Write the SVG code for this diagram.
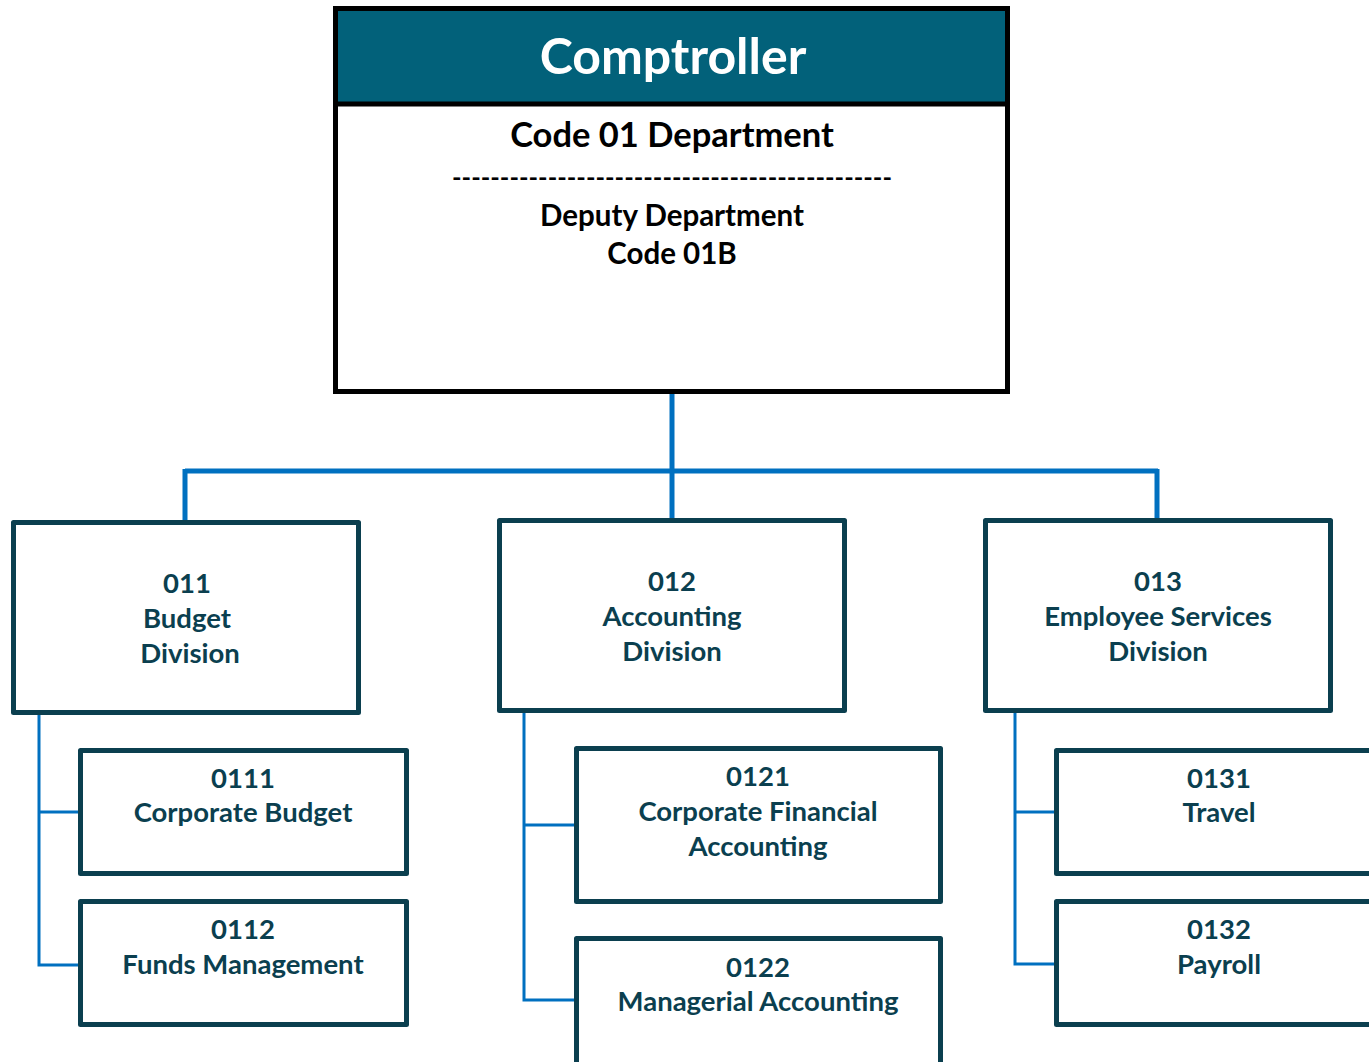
<svg xmlns="http://www.w3.org/2000/svg" width="1369" height="1062" viewBox="0 0 1369 1062">
<style>
text{font-family:Lato,"Open Sans","Liberation Sans",sans-serif;font-weight:bold;text-anchor:middle}
.box{fill:#fff;stroke:#0B3F4F;stroke-width:5;stroke-linejoin:round}
.t{fill:#0B3F4F;font-size:27.5px}
.main{stroke:#0070C0;stroke-width:5;fill:none}
.sub{stroke:#0070C0;stroke-width:3;fill:none}
</style>
<rect width="1369" height="1062" fill="#fff"/>
<g id="connectors">
<path class="main" d="M672 392V520M185 471H1158M185 469V521M1157 469V519"/>
<path class="sub" d="M39 713V965H80M39 812H80"/>
<path class="sub" d="M524 711V1000H575M524 825H575"/>
<path class="sub" d="M1015 711V964H1055M1015 812H1055"/>
</g>
<g id="comptroller">
<rect x="335.5" y="8.5" width="672" height="383" fill="#fff" stroke="#000" stroke-width="5"/>
<rect x="338" y="11" width="667" height="92" fill="#02617A"/>
<line x1="338" y1="104" x2="1005" y2="104" stroke="#000" stroke-width="5"/>
<text x="673" y="74" fill="#fff" font-size="50">Comptroller</text>
<text x="672" y="147" fill="#000" font-size="34.5">Code 01 Department</text>
<text x="672" y="186" fill="#000" font-size="24" textLength="440" lengthAdjust="spacingAndGlyphs">----------------------------------------------</text>
<text x="672" y="226" fill="#000" font-size="29.5">Deputy Department</text>
<text x="672" y="264" fill="#000" font-size="29.5">Code 01B</text>
</g>
<g id="div011">
<rect class="box" x="13.5" y="522.5" width="345" height="190"/>
<text class="t" x="187" y="593">011</text>
<text class="t" x="187" y="628">Budget</text>
<text class="t" x="190" y="663">Division</text>
</g>
<g id="div012">
<rect class="box" x="499.5" y="520.5" width="345" height="190"/>
<text class="t" x="672" y="591">012</text>
<text class="t" x="672" y="626">Accounting</text>
<text class="t" x="672" y="661">Division</text>
</g>
<g id="div013">
<rect class="box" x="985.5" y="520.5" width="345" height="190"/>
<text class="t" x="1158" y="591">013</text>
<text class="t" x="1158" y="626">Employee Services</text>
<text class="t" x="1158" y="661">Division</text>
</g>
<g id="unit0111">
<rect class="box" x="80.5" y="750.5" width="326" height="123"/>
<text class="t" x="243" y="788">0111</text>
<text class="t" x="243" y="822">Corporate Budget</text>
</g>
<g id="unit0112">
<rect class="box" x="80.5" y="901.5" width="326" height="123"/>
<text class="t" x="243" y="939">0112</text>
<text class="t" x="243" y="974">Funds Management</text>
</g>
<g id="unit0121">
<rect class="box" x="576.5" y="748.5" width="364" height="153"/>
<text class="t" x="758" y="786">0121</text>
<text class="t" x="758" y="821">Corporate Financial</text>
<text class="t" x="758" y="856">Accounting</text>
</g>
<g id="unit0122">
<rect class="box" x="576.5" y="938.5" width="364" height="140"/>
<text class="t" x="758" y="977">0122</text>
<text class="t" x="758" y="1011">Managerial Accounting</text>
</g>
<g id="unit0131">
<rect class="box" x="1056.5" y="750.5" width="330" height="123"/>
<text class="t" x="1219" y="788">0131</text>
<text class="t" x="1219" y="822">Travel</text>
</g>
<g id="unit0132">
<rect class="box" x="1056.5" y="901.5" width="330" height="123"/>
<text class="t" x="1219" y="939">0132</text>
<text class="t" x="1219" y="974">Payroll</text>
</g>
</svg>
